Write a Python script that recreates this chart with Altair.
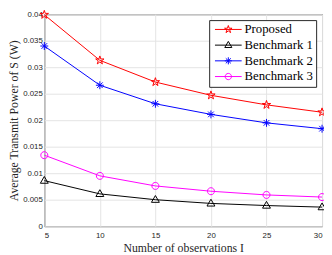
import altair as alt
import pandas as pd

observations = [5, 10, 15, 20, 25, 30]
proposed = [0.0399, 0.0313, 0.0272, 0.0247, 0.0229, 0.0215]
bench1 = [0.0086, 0.0061, 0.0050, 0.0043, 0.0039, 0.0036]
bench2 = [0.0340, 0.0266, 0.0231, 0.0211, 0.0195, 0.0184]
bench3 = [0.0134, 0.0095, 0.0076, 0.0066, 0.0059, 0.0055]

series_names = ["Proposed", "Benchmark 1", "Benchmark 2", "Benchmark 3"]
series_colors = ["#ff0000", "#000000", "#0000ff", "#ff00ff"]
x_ticks = [5, 10, 15, 20, 25, 30]
y_ticks = [0, 0.005, 0.01, 0.015, 0.02, 0.025, 0.03, 0.035, 0.04]

rows = []
for name, vals in zip(series_names, [proposed, bench1, bench2, bench3]):
    for o, v in zip(observations, vals):
        rows.append({"obs": o, "power": v, "series": name})
df = pd.DataFrame(rows)

# marker paths (unit radius)
star = ("M0,-1L0.2245,-0.309L0.951,-0.309L0.363,0.118L0.588,0.809L0,0.382"
        "L-0.588,0.809L-0.363,0.118L-0.951,-0.309L-0.2245,-0.309Z")
tri = "M0,-0.95L0.9,0.6L-0.9,0.6Z"
aster = "M0,-0.9L0,0.9M-0.9,0L0.9,0M-0.64,-0.64L0.64,0.64M-0.64,0.64L0.64,-0.64"
circ = "M0.8,0A0.8,0.8,0,1,1,-0.8,0A0.8,0.8,0,1,1,0.8,0Z"
marker_paths = [star, tri, aster, circ]
seg = "M-3.4,0L3.4,0"
legend_paths = [seg + p for p in marker_paths]

SERIF = "Liberation Serif"

x_enc = alt.X("obs:Q", scale=alt.Scale(domain=[5, 30], nice=False),
              axis=alt.Axis(values=x_ticks, title="Number of observations I",
                            grid=True, labelOverlap=False))
y_enc = alt.Y("power:Q", scale=alt.Scale(domain=[0, 0.04], nice=False),
              axis=alt.Axis(values=y_ticks, format="~g", labelOverlap=False,
                            title="Average Transmit Power of S (W)", grid=True))

legend_kw = dict(title=None, orient="top-right",
                 labelFont=SERIF, labelFontSize=13, labelColor="#000000")

lines = alt.Chart(df).mark_line(strokeWidth=1).encode(
    x=x_enc, y=y_enc,
    color=alt.Color("series:N", scale=alt.Scale(domain=series_names, range=series_colors),
                    legend=None),
)

points = alt.Chart(df).mark_point(filled=False, size=80, strokeWidth=1, opacity=1).encode(
    x=x_enc, y=y_enc,
    color=alt.Color("series:N", scale=alt.Scale(domain=series_names, range=series_colors),
                    legend=None),
    shape=alt.Shape("series:N", scale=alt.Scale(domain=series_names, range=marker_paths),
                    legend=None),
)

legend_layer = alt.Chart(df).transform_filter("false").mark_point(
    filled=False, size=64, strokeWidth=1, opacity=1).encode(
    x=x_enc, y=y_enc,
    color=alt.Color("series:N", scale=alt.Scale(domain=series_names, range=series_colors),
                    legend=alt.Legend(**legend_kw)),
    shape=alt.Shape("series:N", scale=alt.Scale(domain=series_names, range=legend_paths),
                    legend=alt.Legend(**legend_kw)),
)

chart = alt.layer(lines, points, legend_layer).resolve_scale(
    color="independent", shape="independent"
).properties(
    width=283, height=216,
    autosize=alt.AutoSizeParams(type="none"),
    padding={"left": 37, "top": 4, "right": 2, "bottom": 27},
).configure(
    font=SERIF
).configure_view(
    stroke="#262626", strokeWidth=1
).configure_axis(
    domain=False, ticks=False, labelOverlap=False,
    gridColor="#e3e3e3", gridWidth=1,
    labelFont="Liberation Sans", labelFontSize=8, labelColor="#262626",
    titleFont=SERIF, titleFontSize=12, titleFontWeight="normal",
    titleColor="#262626",
).configure_axisX(
    labelPadding=6, titlePadding=3,
).configure_axisY(
    labelPadding=2, titlePadding=2,
).configure_legend(
    labelFont=SERIF, labelFontSize=13, labelColor="#000000",
    strokeColor="#262626", fillColor="#ffffff", padding=3,
    offset=6, rowPadding=2, symbolOffset=10, labelOffset=10,
    symbolStrokeWidth=1, symbolSize=64, cornerRadius=0,
)

chart.save("out.html", embed_options={"renderer": "svg", "actions": False})
